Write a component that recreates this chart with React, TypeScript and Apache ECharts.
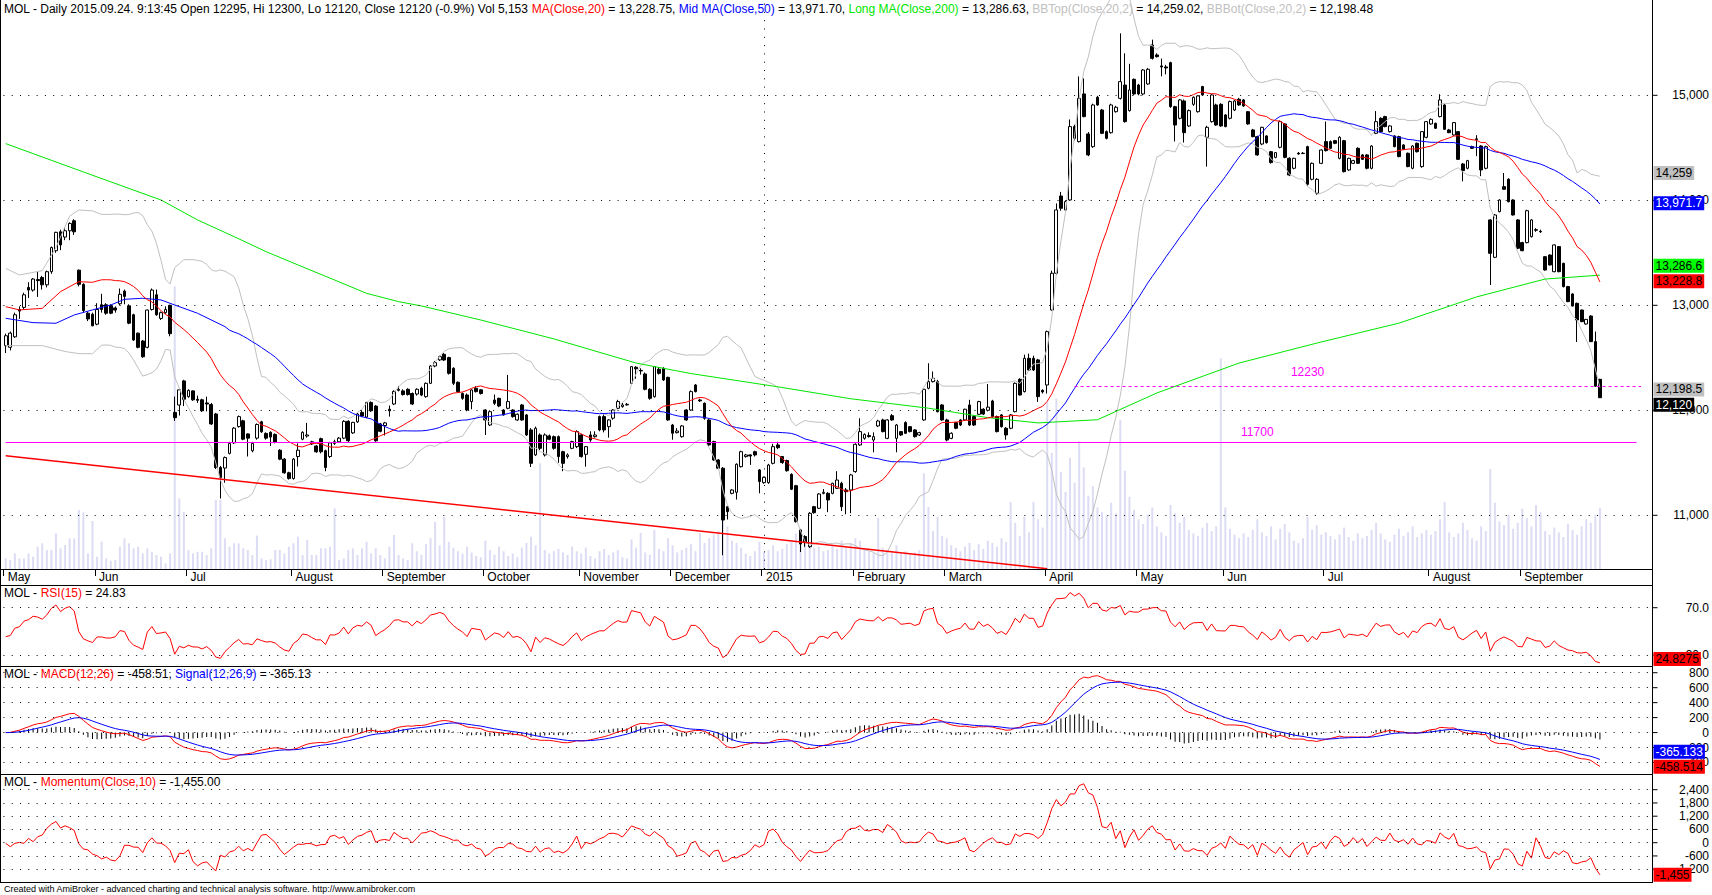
import React, { useEffect, useRef } from "react";
import * as echarts from "echarts";

// ---------------- data ----------------
const monthNames = ["May", "Jun", "Jul", "August", "September", "October", "November", "December", "2015", "February", "March", "April", "May", "Jun", "Jul", "August", "September"];
const monthBarCounts = [20, 20, 23, 20, 22, 21, 20, 20, 20, 20, 22, 20, 19, 22, 23, 20, 18];

const openP = [
  12615, 12600, 12700, 12960, 12980, 13170, 13145, 13245, 13265, 13195,
  13320, 13520, 13700, 13650, 13710, 13805, 13335, 13200, 12925, 12915,
  12820, 13005, 13005, 12995, 12975, 13015, 13135, 12995, 12910, 12735,
  12660, 12600, 12960, 13100, 12875, 12930, 13000, 11980, 12050, 12280,
  12130, 12185, 12105, 12100, 12070, 12055, 11965, 11455, 11450, 11590,
  11690, 11845, 11900, 11775, 11615, 11735, 11890, 11780, 11790, 11770,
  11620, 11535, 11405, 11350, 11560, 11725, 11755, 11700, 11660, 11730,
  11615, 11560, 11700, 11700, 11735, 11895, 11785, 11890, 11980, 11935,
  12075, 12040, 11870, 11855, 12010, 12060, 12190, 12185, 12200, 12160,
  12155, 12210, 12130, 12257, 12422, 12480, 12533, 12502, 12400, 12267,
  12160, 12146, 12083, 12210, 12195, 12003, 11860, 12098, 12114, 12003,
  12019, 12003, 11908, 12051, 11956, 11813, 11575, 11765, 11575, 11756,
  11749, 11749, 11606, 11559, 11638, 11654, 11765, 11581, 11765, 11749,
  11940, 11940, 11844, 11925, 12019, 12035, 12051, 12257, 12410, 12380,
  12346, 12200, 12130, 12391, 12400, 12314, 11860, 11787, 11749, 12003,
  12003, 12241, 12098, 12067, 11908, 11702, 11527, 11448, 11082, 11209,
  11219, 11463, 11559, 11575, 11606, 11432, 11311, 11311, 11495, 11670,
  11559, 11521, 11390, 11282, 10860, 10797, 10701, 11082, 11067, 11209,
  11209, 11209, 11257, 11305, 11241, 11241, 11416, 11670, 11733, 11760,
  11717, 11851, 11908, 11733, 11949, 11733, 11797, 11883, 11844, 11813,
  11765, 11908, 12210, 12273, 12273, 12051, 11908, 11733, 11883, 11908,
  11908, 12051, 11940, 11962, 12010, 12000, 12089, 11940, 11956, 11829,
  11829, 11987, 12295, 12178, 12495, 12495, 12480, 12190, 12241, 12955,
  13305, 14041, 13908, 14003, 14702, 14559, 15013, 14632, 14511, 14981,
  14860, 14654, 14644, 14844, 14971, 15098, 14854, 15152, 15098, 15013,
  15108, 15479, 15384, 15280, 15270, 15311, 14892, 14781, 14946, 14708,
  14914, 14844, 15083, 14600, 14749, 14908, 14914, 14813, 14781, 14860,
  14962, 14956, 14844, 14670, 14606, 14536, 14613, 14463, 14409, 14505,
  14727, 14400, 14305, 14448, 14448, 14511, 14200, 14067, 14352, 14559,
  14559, 14568, 14400, 14568, 14289, 14352, 14495, 14432, 14432, 14305,
  14638, 14781, 14797, 14654, 14613, 14606, 14527, 14448, 14305, 14543,
  14321, 14600, 14727, 14733, 14797, 14908, 14670, 14622, 14654, 14346,
  14305, 14511, 14585, 14517, 14305, 13813, 13457, 13892, 14130, 14200,
  14003, 13813, 13597, 13597, 13654, 13720, 13705, 13463, 13479, 13320,
  13559, 13400, 13178, 13108, 13019, 12955, 12822, 12898, 12654, 12295,
];
const highP = [
  12730, 12750, 12930, 12990, 13120, 13220, 13260, 13320, 13280, 13330,
  13560, 13700, 13720, 13740, 13790, 13820, 13340, 13210, 12940, 12930,
  13020, 13110, 13020, 13010, 12990, 13160, 13150, 13010, 12920, 12740,
  12670, 12960, 13160, 13150, 12940, 12990, 13005, 12130, 12200, 12290,
  12200, 12190, 12140, 12110, 12130, 12070, 11975, 11470, 11560, 11700,
  11840, 11950, 11910, 11780, 11700, 11875, 11900, 11790, 11800, 11780,
  11630, 11545, 11415, 11545, 11685, 11800, 11880, 11710, 11670, 11740,
  11625, 11700, 11720, 11745, 11905, 11905, 11890, 11975, 12000, 12080,
  12085, 12050, 11880, 11890, 12045, 12190, 12230, 12200, 12210, 12170,
  12210, 12225, 12265, 12430, 12470, 12520, 12545, 12510, 12410, 12275,
  12170, 12160, 12200, 12230, 12200, 12010, 12000, 12150, 12120, 12010,
  12337, 12010, 11970, 12060, 11965, 11830, 11845, 11780, 11780, 11770,
  11760, 11760, 11615, 11590, 11710, 11810, 11775, 11660, 11800, 11800,
  11950, 11960, 11915, 12010, 12100, 12070, 12070, 12420, 12420, 12400,
  12360, 12210, 12420, 12410, 12410, 12320, 11870, 11830, 11860, 12010,
  12190, 12250, 12110, 12075, 11915, 11710, 11535, 11460, 11090, 11250,
  11495, 11615, 11585, 11580, 11615, 11440, 11370, 11490, 11680, 11700,
  11565, 11530, 11400, 11290, 10870, 10810, 11030, 11090, 11210, 11250,
  11220, 11310, 11420, 11320, 11260, 11395, 11685, 11924, 11780, 11790,
  11790, 11910, 11920, 11915, 11965, 11870, 11800, 11895, 11850, 11820,
  11795, 12205, 12448, 12370, 12290, 12060, 11920, 11790, 11890, 11915,
  12015, 12100, 11950, 12090, 12020, 12250, 12100, 11950, 11965, 11840,
  11965, 12265, 12305, 12530, 12540, 12520, 12490, 12200, 12760, 13330,
  13970, 14080, 14000, 14770, 14720, 15180, 15160, 14650, 14920, 14995,
  14870, 14665, 14920, 14900, 15590, 15400, 15300, 15160, 15110, 15250,
  15260, 15530, 15400, 15350, 15290, 15320, 14900, 14965, 14960, 14865,
  14990, 15000, 15090, 14710, 15010, 14920, 14925, 14820, 14950, 14955,
  14975, 14965, 14850, 14680, 14615, 14700, 14620, 14470, 14460, 14760,
  14735, 14410, 14405, 14460, 14460, 14520, 14360, 14210, 14485, 14750,
  14570, 14575, 14610, 14575, 14405, 14385, 14505, 14440, 14440, 14525,
  14850, 14790, 14805, 14715, 14620, 14615, 14535, 14455, 14525, 14550,
  14660, 14755, 14780, 14740, 15010, 14915, 14680, 14745, 14660, 14355,
  14385, 14520, 14620, 14525, 14520, 13820, 13870, 14010, 14260, 14210,
  14010, 13820, 13605, 13910, 13820, 13735, 13720, 13470, 13485, 13580,
  13565, 13405, 13185, 13115, 13025, 12960, 12870, 12905, 12750, 12300,
];
const lowP = [
  12545, 12570, 12690, 12870, 12960, 13070, 13130, 13080, 13150, 13170,
  13300, 13500, 13525, 13620, 13620, 13670, 13180, 12930, 12850, 12800,
  12810, 12930, 12910, 12915, 12930, 13000, 13010, 12820, 12660, 12590,
  12500, 12590, 12950, 12900, 12860, 12920, 12705, 11900, 11950, 12040,
  12120, 12090, 12070, 11985, 11990, 11860, 11440, 11160, 11310, 11580,
  11680, 11835, 11715, 11560, 11600, 11720, 11785, 11720, 11660, 11685,
  11525, 11395, 11340, 11340, 11465, 11715, 11740, 11670, 11595, 11590,
  11420, 11545, 11670, 11690, 11725, 11700, 11775, 11880, 11935, 11925,
  11985, 11700, 11790, 11760, 11940, 12050, 12180, 12140, 12140, 12050,
  12140, 12135, 12120, 12250, 12410, 12470, 12470, 12340, 12240, 12170,
  12100, 11990, 12010, 12170, 12150, 11765, 11850, 12050, 12030, 11950,
  12010, 11930, 11900, 11900, 11755, 11460, 11565, 11620, 11560, 11715,
  11625, 11500, 11420, 11540, 11630, 11640, 11550, 11463, 11700, 11740,
  11800, 11790, 11740, 11910, 12010, 12025, 12045, 12250, 12300, 12340,
  12190, 12100, 12120, 12340, 12280, 11900, 11720, 11780, 11740, 11900,
  11995, 12170, 12080, 11910, 11660, 11520, 11440, 10620, 10960, 11200,
  11150, 11455, 11550, 11480, 11560, 11210, 11300, 11300, 11485, 11630,
  11490, 11415, 11240, 10930, 10650, 10700, 10690, 11015, 11060, 11200,
  11030, 11200, 11250, 11040, 11010, 11020, 11405, 11660, 11720, 11740,
  11600, 11840, 11790, 11725, 11900, 11600, 11755, 11775, 11790, 11740,
  11755, 11900, 12200, 12265, 11980, 11900, 11705, 11725, 11820, 11850,
  11900, 11850, 11850, 11955, 11955, 11990, 11930, 11790, 11835, 11720,
  11820, 11980, 12140, 12170, 12375, 12375, 12080, 12160, 12160, 12950,
  13290, 13900, 13900, 13995, 14570, 14550, 14790, 14420, 14500, 14900,
  14630, 14580, 14635, 14835, 14960, 14740, 14845, 15000, 15000, 15000,
  15100, 15340, 15360, 15180, 15200, 14880, 14560, 14770, 14550, 14700,
  14900, 14835, 14995, 14321, 14740, 14710, 14700, 14695, 14770, 14850,
  14900, 14890, 14720, 14600, 14425, 14525, 14540, 14350, 14400, 14495,
  14400, 14230, 14295, 14435, 14440, 14140, 14190, 14050, 14345, 14465,
  14490, 14535, 14390, 14265, 14280, 14345, 14345, 14385, 14295, 14295,
  14630, 14645, 14695, 14645, 14505, 14410, 14480, 14315, 14295, 14455,
  14310, 14590, 14720, 14680, 14790, 14670, 14640, 14615, 14385, 14180,
  14295, 14490, 14420, 14230, 14295, 13193, 13450, 13885, 14100, 13980,
  13855, 13535, 13515, 13590, 13645, 13700, 13690, 13330, 13380, 13315,
  13315, 13170, 13030, 12990, 12650, 12840, 12815, 12650, 12225, 12120,
];
const closeP = [
  12710, 12735, 12910, 12945, 13100, 13145, 13250, 13235, 13195, 13320,
  13550, 13695, 13575, 13710, 13780, 13700, 13200, 12950, 12870, 12805,
  12960, 12960, 12925, 12925, 12955, 13105, 13085, 12830, 12670, 12600,
  12510, 12955, 13145, 12910, 12930, 12960, 12730, 11930, 12195, 12105,
  12190, 12100, 12095, 11995, 12060, 11870, 11455, 11360, 11550, 11685,
  11830, 11940, 11725, 11735, 11685, 11865, 11795, 11735, 11745, 11695,
  11535, 11405, 11350, 11535, 11620, 11790, 11765, 11680, 11605, 11605,
  11455, 11690, 11685, 11735, 11895, 11710, 11885, 11965, 11945, 12075,
  11995, 11710, 11800, 11880, 11995, 12180, 12200, 12150, 12150, 12060,
  12200, 12145, 12257, 12422, 12454, 12511, 12479, 12352, 12257, 12178,
  12114, 12003, 12194, 12178, 12160, 11908, 11987, 12067, 12041, 11956,
  12083, 11940, 11962, 11908, 11765, 11495, 11829, 11638, 11765, 11724,
  11638, 11559, 11495, 11575, 11702, 11797, 11559, 11654, 11717, 11765,
  11813, 11813, 11908, 12003, 12083, 12051, 12057, 12416, 12395, 12375,
  12200, 12114, 12416, 12352, 12289, 11908, 11781, 11803, 11851, 11908,
  12178, 12178, 12090, 11924, 11670, 11527, 11448, 10955, 11035, 11241,
  11486, 11606, 11575, 11565, 11575, 11321, 11362, 11479, 11654, 11644,
  11502, 11425, 11248, 10940, 10727, 10740, 11019, 11025, 11203, 11219,
  11146, 11305, 11336, 11082, 11225, 11384, 11676, 11797, 11770, 11750,
  11749, 11898, 11797, 11908, 11908, 11860, 11765, 11781, 11797, 11749,
  11787, 12200, 12273, 12305, 11987, 11908, 11717, 11781, 11829, 11860,
  12010, 11860, 11860, 12083, 11965, 12030, 11940, 11797, 11844, 11765,
  11956, 12257, 12146, 12495, 12384, 12384, 12130, 12175, 12749, 13305,
  13908, 13924, 13987, 14702, 14590, 14971, 14797, 14432, 14908, 14908,
  14638, 14590, 14908, 14886, 15130, 14749, 15051, 15013, 15013, 15241,
  15248, 15352, 15368, 15270, 15260, 14892, 14717, 14956, 14644, 14854,
  14981, 14994, 15003, 14695, 15003, 14717, 14708, 14702, 14940, 14946,
  14908, 14898, 14727, 14606, 14432, 14695, 14549, 14359, 14454, 14749,
  14409, 14241, 14400, 14441, 14445, 14152, 14352, 14200, 14479, 14473,
  14495, 14543, 14600, 14273, 14400, 14378, 14352, 14390, 14305, 14517,
  14749, 14654, 14702, 14708, 14511, 14416, 14486, 14321, 14517, 14463,
  14654, 14749, 14771, 14686, 14956, 14676, 14644, 14740, 14390, 14283,
  14378, 14495, 14580, 14289, 14511, 13495, 13860, 14003, 14105, 13987,
  13860, 13543, 13520, 13901, 13813, 13715, 13700, 13336, 13384, 13575,
  13320, 13178, 13035, 12993, 12860, 12844, 12866, 12654, 12230, 12120,
];
const volume = [
  900, 760, 1320, 900, 900, 1320, 1040, 1890, 2170, 1610,
  1610, 3010, 1750, 2030, 2590, 2590, 4990, 4790, 1320, 4060,
  1040, 2310, 900, 700, 760, 1890, 2590, 2170, 1750, 1890,
  1320, 1750, 1460, 1180, 1040, 480, 1320, 23900, 5970, 4840,
  1610, 1320, 1460, 1460, 1180, 1750, 5830, 5830, 2590, 1890,
  2170, 2170, 1750, 1610, 1180, 2820, 900, 760, 820, 1610,
  1610, 1320, 1890, 2170, 2730, 1180, 2450, 1180, 1180, 1750,
  1750, 1890, 5130, 760, 900, 1610, 1750, 1180, 1750, 2310,
  1320, 1750, 1180, 900, 1890, 2870, 1180, 900, 760, 2170,
  1500, 1200, 2100, 2600, 3970, 2000, 4400, 2300, 1800, 1500,
  1300, 1900, 1400, 1100, 1000, 2400, 1600, 1200, 1900, 1500,
  1100, 1300, 1000, 1800, 2200, 2730, 2000, 8930, 1600, 1300,
  1500, 1700, 1400, 1200, 1900, 1500, 1300, 1800, 1100, 900,
  1500, 1700, 1200, 1400, 1600, 1000, 900, 2500, 1800, 3040,
  1400, 1200, 3300, 1700, 1500, 2600, 2000, 1400, 1600, 1800,
  2100, 1500, 3040, 2200, 2600, 2900, 3200, 4140, 3600, 2400,
  2200, 1800, 1300, 1100, 1500, 2300, 1400, 1600, 2000, 1500,
  1700, 2100, 2300, 3000, 3400, 2600, 2800, 1800, 1900, 1500,
  1600, 2000, 1700, 2400, 1800, 2200, 2600, 2400, 1700, 1500,
  1400, 4310, 1800, 1600, 1400, 2000, 1300, 1500, 1200, 1400,
  1600, 8090, 5240, 3200, 4400, 2800, 2600, 2000, 1800, 1500,
  1900, 2200, 1600, 2100, 1700, 2400, 2200, 1900, 2600, 2300,
  5660, 3900, 2800, 4400, 3100, 5660, 4200, 3500, 14100, 9800,
  14400, 8200, 6500, 9400, 7300, 10800, 8600, 6200, 7000, 5200,
  4800, 4500, 5600, 4700, 12600, 8300, 6100, 5000, 4200, 3800,
  4600, 5200, 3600, 3100, 2800, 5400, 4700, 3900, 4400, 3300,
  3000, 2800, 3500, 3900, 3200, 3600, 17800, 5200, 3400, 2900,
  2600, 3000, 2700, 3300, 4200, 3100, 2800, 3600, 2500, 3400,
  3800, 3100, 2400, 2200, 2600, 4400, 3300, 3700, 2900, 3100,
  2800, 2500, 2900, 3500, 2700, 2400, 3000, 2600, 2800, 3300,
  3900, 3000, 2500, 2300, 2900, 3400, 2800, 3100, 3600, 2700,
  3000, 3300, 2900, 3200, 4200, 5660, 3100, 2700, 3000, 3900,
  3300, 2600, 2400, 3600, 3200, 8450, 5600, 4000, 3700, 4600,
  3400, 3900, 5100, 4300, 3600, 5400, 4800, 3200, 2900, 3500,
  3100, 2700, 3800, 3300, 2900, 3600, 4200, 3900, 4600, 5153,
];

// long moving average (bar index, value)
const ma200Points = [
  [0, 14540], [17, 14270], [34, 14003], [42, 13813], [50, 13654], [57, 13511], [64, 13384],
  [72, 13241], [79, 13114], [86, 13035], [91, 12994], [104, 12860], [120, 12680], [138, 12450],
  [150, 12350], [169, 12224], [185, 12110], [202, 12020], [215, 11930], [226, 11880], [239, 11910],
  [252, 12165], [270, 12450], [287, 12640], [305, 12830], [322, 13080], [337, 13250], [349, 13287],
];
// indicator values at the left edge (before the window is filled)
const ma20EarlyPoints = [[0, 12987], [3, 12956], [8, 12971], [12, 13130], [16, 13225]];
const bbTopEarlyPoints = [[0, 13352], [3, 13289], [8, 13330], [11, 13550], [14, 13850], [16, 13908]];
const bbBotEarlyPoints = [[0, 12616], [8, 12616], [13, 12560], [16, 12540]];
const ma50EarlyPoints = [
  [0, 12876], [6, 12835], [11, 12829], [15, 12908], [19, 12956], [23, 13003], [26, 13057],
  [30, 13067], [34, 13051], [37, 13003], [42, 12924], [48, 12797],
];
const rsiAtLeftEdge = 45.5;
const momentumEarlyPoints = [[0, -30], [1, -180], [2, -30], [3, 15], [4, -30], [5, 196], [6, 45], [7, 270], [8, 347], [9, 650]];
const trendLinePoints = [[0, 11567], [228, 10492]];
const level11700 = { value: 11700, from: 0, to: 357, label: "11700" };
const level12230 = { value: 12230, from: 234, to: 358, label: "12230" };

const priceTicks = [11000, 12000, 13000, 14000, 15000];
const rsiTicks = [30, 70];
const macdTicks = [-400, -200, 0, 200, 400, 600, 800];
const momTicks = [-1200, -600, 0, 600, 1200, 1800, 2400];

const priceTags = [
  { v: 14259.02, t: "14,259", bg: "#c0c0c0", fg: "#000", dy: 0 },
  { v: 13971.7, t: "13,971.7", bg: "#0000ff", fg: "#fff", dy: 0 },
  { v: 13286.63, t: "13,286.6", bg: "#00ff00", fg: "#000", dy: -9.5 },
  { v: 13228.75, t: "13,228.8", bg: "#ff0000", fg: "#000", dy: 0 },
  { v: 12198.48, t: "12,198.5", bg: "#c0c0c0", fg: "#000", dy: 0 },
  { v: 12120, t: "12,120", bg: "#000000", fg: "#fff", dy: 7 },
];
const rsiTags = [{ v: 24.8275, t: "24.8275", bg: "#ff0000", fg: "#000", dy: -2 }];
const macdTags = [
  { v: -365.133, t: "-365.133", bg: "#0000ff", fg: "#fff", dy: -8 },
  { v: -458.514, t: "-458.514", bg: "#ff0000", fg: "#000", dy: 0 },
];
const momTags = [{ v: -1455, t: "-1,455", bg: "#ff0000", fg: "#000", dy: 0 }];

const priceTitle = [
  ["MOL - Daily 2015.09.24. 9:13:45 Open 12295, Hi 12300, Lo 12120, Close 12120 (-0.9%) Vol 5,153 ", "k"],
  ["MA(Close,20)", "r"], [" = 13,228.75, ", "k"],
  ["Mid MA(Close,50)", "b"], [" = 13,971.70, ", "k"],
  ["Long MA(Close,200)", "g"], [" = 13,286.63, ", "k"],
  ["BBTop(Close,20,2)", "s"], [" = 14,259.02, ", "k"],
  ["BBBot(Close,20,2)", "s"], [" = 12,198.48", "k"],
];
const rsiTitle = [["MOL - ", "k"], ["RSI(15)", "r"], [" = 24.83", "k"]];
const macdTitle = [["MOL - ", "k"], ["MACD(12,26)", "r"], [" = -458.51, ", "k"], ["Signal(12,26,9)", "b"], [" = -365.13", "k"]];
const momTitle = [["MOL - ", "k"], ["Momentum(Close,10)", "r"], [" = -1,455.00", "k"]];
const footerText = "Created with AmiBroker - advanced charting and technical analysis software. http://www.amibroker.com";

// ---------------- layout / style ----------------
const W = 1712;
const H = 895;
const FONT = '"Liberation Sans", Arial, Helvetica, sans-serif';
const SLOT = 4.568;
const N = closeP.length;
const N_BLANK = 11;
const NCAT = N + N_BLANK;
const GRID_LEFT = 5.7 - SLOT / 2;
const GRID_W = NCAT * SLOT;
const AXIS_X = GRID_LEFT + GRID_W;
const PANES = [
  { top: 0, h: 569 },
  { top: 585, h: 81 },
  { top: 666, h: 108 },
  { top: 774, h: 108 },
];
const RANGES = {
  price: [10488.6, 15907.6],
  vol: [0, 48080],
  rsi: [20.7, 89.2],
  macd: [-554, 890],
  mom: [-1780, 3111],
};
const RED = "#ff0000";
const BLUE = "#0000ff";
const GREEN = "#00e600";
const GRAY = "#c0c0c0";
const MAGENTA = "#ff00ff";
const DOTTED = { color: "#000", width: 1, type: [1, 7.3] as any, opacity: 1 };

// ---------------- derived series ----------------
function withPoints(pts: number[][]) {
  const a: (number | null)[] = new Array(N).fill(null);
  pts.forEach(([i, v]) => (a[i] = v));
  return a;
}
function smaInto(a: (number | null)[], n: number) {
  for (let i = n - 1; i < N; i++) {
    let s = 0;
    for (let k = i - n + 1; k <= i; k++) s += closeP[k];
    a[i] = s / n;
  }
  return a;
}
const ma20 = smaInto(withPoints(ma20EarlyPoints), 20);
const ma50 = smaInto(withPoints(ma50EarlyPoints), 50);
const ma200 = withPoints(ma200Points);
const bbTop = withPoints(bbTopEarlyPoints);
const bbBot = withPoints(bbBotEarlyPoints);
for (let i = 19; i < N; i++) {
  const m = ma20[i] as number;
  let s = 0;
  for (let k = i - 19; k <= i; k++) s += (closeP[k] - m) ** 2;
  const sd = Math.sqrt(s / 20);
  bbTop[i] = m + 2 * sd;
  bbBot[i] = m - 2 * sd;
}
// Wilder RSI(15); its starting state is taken from the RSI value read at the left edge
const rsi: (number | null)[] = new Array(N).fill(null);
{
  let absSum = 0;
  for (let i = 1; i <= 15; i++) absSum += Math.abs(closeP[i] - closeP[i - 1]);
  const avgAbs = absSum / 15;
  let ag = (avgAbs * rsiAtLeftEdge) / 100;
  let al = avgAbs * (1 - rsiAtLeftEdge / 100);
  rsi[0] = rsiAtLeftEdge;
  for (let i = 1; i < N; i++) {
    const ch = closeP[i] - closeP[i - 1];
    const g = ch > 0 ? ch : 0;
    const l = ch < 0 ? -ch : 0;
    ag = (ag * 14 + g) / 15;
    al = (al * 14 + l) / 15;
    rsi[i] = 100 - 100 / (1 + ag / al);
  }
}
function ema(src: number[], n: number) {
  const a = 2 / (n + 1);
  const out: number[] = [];
  src.forEach((v, i) => out.push(i === 0 ? v : a * v + (1 - a) * out[i - 1]));
  return out;
}
const ema12 = ema(closeP, 12);
const ema26 = ema(closeP, 26);
const macd = closeP.map((_, i) => ema12[i] - ema26[i]);
const signal = ema(macd, 9);
const hist = macd.map((v, i) => v - signal[i]);
const momentum = withPoints(momentumEarlyPoints);
for (let i = 10; i < N; i++) momentum[i] = closeP[i] - closeP[i - 10];

const cats = Array.from({ length: NCAT }, (_, i) => String(i));
const monthLabelAt: Record<number, string> = {};
{
  let idx = 0;
  monthBarCounts.forEach((c, m) => {
    monthLabelAt[idx] = monthNames[m];
    idx += c;
  });
}
const janIndex = monthBarCounts.slice(0, 8).reduce((a, b) => a + b, 0);

function fmt(v: number) {
  const s = Math.abs(v).toString().replace(/\B(?=(\d{3})+(?!\d))/g, ",");
  return (v < 0 ? "-" : "") + s;
}

function richText(parts: string[][]) {
  return parts.map(([t, k]) => `{${k}|${t}}`).join("");
}
const RICH = {
  k: { fill: "#000", fontSize: 12, fontFamily: FONT },
  r: { fill: RED, fontSize: 12, fontFamily: FONT },
  b: { fill: BLUE, fontSize: 12, fontFamily: FONT },
  g: { fill: GREEN, fontSize: 12, fontFamily: FONT },
  s: { fill: GRAY, fontSize: 12, fontFamily: FONT },
};

function buildOption() {
  const grids = PANES.map((p) => ({
    left: GRID_LEFT,
    top: p.top,
    width: GRID_W,
    height: p.h,
    containLabel: false,
    outerBoundsMode: "none",
    show: false,
  }));
  const xAxes = PANES.map((_, gi) => ({
    type: "category",
    gridIndex: gi,
    data: cats,
    boundaryGap: true,
    show: gi === 0,
    axisLine: { show: false },
    splitLine: { show: false },
    axisTick:
      gi === 0
        ? {
            show: true,
            length: 7,
            interval: (i: number) => monthLabelAt[i] !== undefined,
            lineStyle: { color: "#000", width: 1 },
          }
        : { show: false },
    axisLabel:
      gi === 0
        ? {
            show: true,
            interval: (i: number) => monthLabelAt[i] !== undefined,
            formatter: (_v: string, i: number) => monthLabelAt[i] ?? "",
            align: "left",
            margin: 2,
            padding: [0, 0, 0, 2],
            color: "#000",
            fontSize: 12,
            fontFamily: FONT,
          }
        : { show: false },
  }));
  const mkY = (gi: number, r: number[]) => ({
    type: "value",
    gridIndex: gi,
    min: r[0],
    max: r[1],
    show: false,
    scale: true,
    splitLine: { show: false },
  });
  const yAxes = [
    mkY(0, RANGES.price),
    mkY(0, RANGES.vol),
    mkY(1, RANGES.rsi),
    mkY(2, RANGES.macd),
    mkY(3, RANGES.mom),
  ];
  const line = (data: any[], color: string, xi: number, yi: number, extra: any = {}) => ({
    type: "line",
    xAxisIndex: xi,
    yAxisIndex: yi,
    data,
    showSymbol: false,
    symbol: "none",
    connectNulls: true,
    smooth: false,
    silent: true,
    lineStyle: { color, width: 1 },
    z: 4,
    ...extra,
  });
  const gridMark = (ticks: number[]) => ({
    silent: true,
    symbol: ["none", "none"],
    label: { show: false },
    emphasis: { disabled: true },
    lineStyle: DOTTED,
    data: ticks.map((v) => ({ yAxis: v, lineStyle: DOTTED })),
  });

  const candleData = closeP.map((c, i) => [openP[i], c, lowP[i], highP[i]]);
  const priceMarks = gridMark(priceTicks);
  (priceMarks.data as any[]).push({ xAxis: janIndex, lineStyle: DOTTED });
  const magentaSolid = { color: MAGENTA, width: 1, type: "solid" };
  const magentaDash = { color: MAGENTA, width: 1, type: [3, 3] };
  const trendStyle = { color: RED, width: 1.5, type: "solid" };
  (priceMarks.data as any[]).push(
    [
      { coord: [level11700.from, level11700.value], lineStyle: magentaSolid },
      { coord: [level11700.to, level11700.value], lineStyle: magentaSolid },
    ],
    [
      { coord: [level12230.from, level12230.value], lineStyle: magentaDash },
      { coord: [level12230.to, level12230.value], lineStyle: magentaDash },
    ],
    [
      { coord: trendLinePoints[0], lineStyle: trendStyle },
      { coord: trendLinePoints[1], lineStyle: trendStyle },
    ]
  );

  return {
    animation: false,
    backgroundColor: "#ffffff",
    textStyle: { fontFamily: FONT },
    grid: grids,
    xAxis: xAxes,
    yAxis: yAxes,
    series: [
      {
        type: "bar",
        xAxisIndex: 0,
        yAxisIndex: 1,
        data: volume,
        barWidth: 2,
        silent: true,
        itemStyle: { color: "#dcdcf4" },
        z: 1,
      },
      {
        type: "candlestick",
        xAxisIndex: 0,
        yAxisIndex: 0,
        data: candleData,
        barWidth: 3.2,
        silent: true,
        itemStyle: {
          color: "#ffffff",
          color0: "#000000",
          borderColor: "#000000",
          borderColor0: "#000000",
          borderWidth: 1,
        },
        markLine: priceMarks,
        z: 3,
      },
      line(bbTop, GRAY, 0, 0),
      line(bbBot, GRAY, 0, 0),
      line(ma200, GREEN, 0, 0),
      line(ma50, BLUE, 0, 0),
      line(ma20, RED, 0, 0),
      line(rsi, RED, 1, 2, { markLine: gridMark(rsiTicks) }),
      {
        type: "bar",
        xAxisIndex: 2,
        yAxisIndex: 3,
        data: hist,
        barWidth: 1,
        silent: true,
        itemStyle: { color: "#000" },
        z: 2,
      },
      line(macd, RED, 2, 3, { markLine: gridMark(macdTicks) }),
      line(signal, BLUE, 2, 3),
      line(momentum, RED, 3, 4, { markLine: gridMark(momTicks) }),
    ],
  };
}

function buildGraphics(chart: echarts.ECharts) {
  const els: any[] = [];
  const hline = (y: number, x1: number, x2: number) =>
    els.push({ type: "line", silent: true, z: 50, shape: { x1, y1: y, x2, y2: y }, style: { stroke: "#000", lineWidth: 1 } });
  const vline = (x: number, y1: number, y2: number) =>
    els.push({ type: "line", silent: true, z: 50, shape: { x1: x, y1, x2: x, y2 }, style: { stroke: "#000", lineWidth: 1 } });

  // pane frames
  [569.5, 585.5, 666.5, 774.5, 882.5].forEach((y) => hline(y, 0, AXIS_X + 0.5));
  vline(0.5, 0, 882.5);
  vline(Math.round(AXIS_X) + 0.5, 0, 882.5);

  const ax = Math.round(AXIS_X) + 0.5;
  const yOf = (axisIdx: number, v: number) => chart.convertToPixel({ yAxisIndex: axisIdx } as any, v) as number;
  const xOf = (i: number) => chart.convertToPixel({ xAxisIndex: 0 } as any, i) as number;

  const axisLabels = (axisIdx: number, ticks: number[], f: (v: number) => string) => {
    ticks.forEach((v) => {
      const y = yOf(axisIdx, v);
      els.push({ type: "line", silent: true, z: 51, shape: { x1: ax, y1: y, x2: ax + 5, y2: y }, style: { stroke: "#000", lineWidth: 1 } });
      els.push({
        type: "text",
        silent: true,
        z: 51,
        style: { text: f(v), x: 1709, y, align: "right", verticalAlign: "middle", fill: "#000", fontSize: 12, fontFamily: FONT },
      });
    });
  };
  axisLabels(0, priceTicks, fmt);
  axisLabels(2, rsiTicks, (v) => v.toFixed(1));
  axisLabels(3, macdTicks, fmt);
  axisLabels(4, momTicks, fmt);

  const tags = (axisIdx: number, list: any[]) =>
    list.forEach((t) => {
      const y = yOf(axisIdx, t.v) + t.dy;
      els.push({
        type: "text",
        silent: true,
        z: 60,
        style: {
          text: t.t,
          x: ax + 1,
          y,
          align: "left",
          verticalAlign: "middle",
          fill: t.fg,
          fontSize: 12,
          fontFamily: FONT,
          backgroundColor: t.bg,
          padding: [1, 2, 1, 2],
        },
      });
    });
  tags(0, priceTags);
  tags(2, rsiTags);
  tags(3, macdTags);
  tags(4, momTags);

  // level labels
  els.push({
    type: "text",
    silent: true,
    z: 55,
    style: { text: level11700.label, x: xOf(274), y: yOf(0, level11700.value) - 10, align: "center", verticalAlign: "middle", fill: MAGENTA, fontSize: 12, fontFamily: FONT },
  });
  els.push({
    type: "text",
    silent: true,
    z: 55,
    style: { text: level12230.label, x: xOf(285), y: yOf(0, level12230.value) - 14, align: "center", verticalAlign: "middle", fill: MAGENTA, fontSize: 12, fontFamily: FONT },
  });

  // pane titles
  const titles: [string[][], number][] = [
    [priceTitle, PANES[0].top + 9],
    [rsiTitle, PANES[1].top + 8],
    [macdTitle, PANES[2].top + 8],
    [momTitle, PANES[3].top + 8],
  ];
  titles.forEach(([parts, y]) =>
    els.push({
      type: "text",
      silent: true,
      z: 70,
      style: { text: richText(parts), rich: RICH, x: 4, y, align: "left", verticalAlign: "middle", fill: "#000", fontSize: 12, fontFamily: FONT },
    })
  );
  els.push({
    type: "text",
    silent: true,
    z: 70,
    style: { text: footerText, x: 4, y: 889, align: "left", verticalAlign: "middle", fill: "#000", fontSize: 9, fontFamily: FONT },
  });
  return els;
}

export default function App() {
  const ref = useRef<HTMLDivElement>(null);
  useEffect(() => {
    document.body.style.margin = "0";
    const el = ref.current as HTMLDivElement;
    const chart = echarts.init(el, undefined, { renderer: "svg", width: W, height: H });
    chart.setOption(buildOption() as any);
    chart.setOption({ graphic: buildGraphics(chart) } as any);
    return () => chart.dispose();
  }, []);
  return <div ref={ref} style={{ width: W, height: H, background: "#fff" }} />;
}
